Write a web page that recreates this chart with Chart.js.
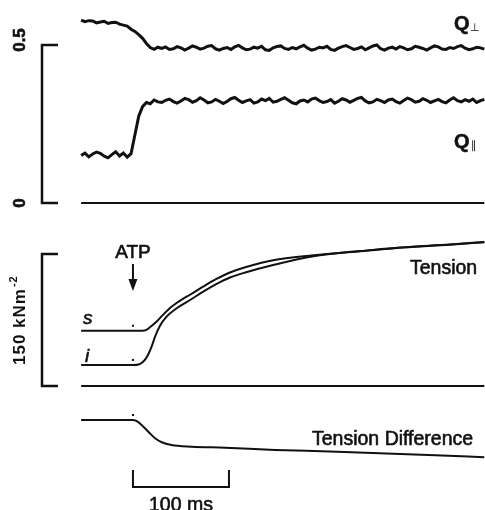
<!DOCTYPE html>
<html>
<head>
<meta charset="utf-8">
<script src="https://cdn.jsdelivr.net/npm/chart.js@4/dist/chart.umd.min.js"></script>
<style>
  body { margin: 0; background: #fff; }
</style>
</head>
<body>
<canvas id="myChart" width="485" height="510"></canvas>
<script>
// times are ms after ATP release
var qTimes = [-54, -50, -46, -42, -38, -34, -30, -26, -22, -18, -14, -10, -6, -2, 2, 6, 10, 14, 18, 22, 26,
    30, 34, 38, 42, 46, 50, 54, 58, 62, 66, 70, 74, 78, 82, 86, 90, 94, 98, 102, 106,
    110, 114, 118, 122, 126, 130, 134, 138, 142, 146, 150, 154, 158, 162, 166, 170, 174, 178, 182, 186,
    190, 194, 198, 202, 206, 210, 214, 218, 222, 226, 230, 234, 238, 242, 246, 250, 254, 258, 262, 266,
    270, 274, 278, 282, 286, 290, 294, 298, 302, 306, 310, 314, 318, 322, 326, 330, 334, 338, 342, 346,
    350, 354, 358, 362, 366];

var qPerp = [0.579, 0.574, 0.577, 0.576, 0.570, 0.573, 0.575, 0.568, 0.571, 0.572, 0.566, 0.563, 0.560, 0.550,
    0.543, 0.533, 0.521, 0.505, 0.492, 0.486, 0.493,
    0.489, 0.494, 0.486, 0.488, 0.495, 0.491, 0.484, 0.490, 0.497, 0.493,
    0.487, 0.490, 0.496, 0.498, 0.488, 0.484, 0.489, 0.492, 0.486, 0.494,
    0.499, 0.491, 0.485, 0.487, 0.493, 0.490, 0.496, 0.485, 0.483, 0.491,
    0.495, 0.497, 0.489, 0.486, 0.492, 0.488, 0.494, 0.499, 0.490, 0.484,
    0.487, 0.493, 0.491, 0.496, 0.486, 0.483, 0.490, 0.495, 0.498, 0.492,
    0.486, 0.489, 0.494, 0.485, 0.491, 0.497, 0.500, 0.488, 0.484, 0.490,
    0.493, 0.487, 0.495, 0.491, 0.485, 0.488, 0.496, 0.493, 0.489, 0.484,
    0.491, 0.497, 0.494, 0.487, 0.486, 0.492, 0.489, 0.495, 0.498, 0.490,
    0.485, 0.488, 0.493, 0.491, 0.487];

var qPar = [0.150, 0.158, 0.146, 0.155, 0.161, 0.157, 0.148, 0.143, 0.153, 0.162, 0.149, 0.158, 0.145, 0.156,
    0.215, 0.275, 0.305, 0.318, 0.314, 0.326, 0.320,
    0.318, 0.325, 0.329, 0.321, 0.316, 0.323, 0.331, 0.327, 0.319, 0.324,
    0.333, 0.326, 0.317, 0.320, 0.328, 0.322, 0.315, 0.321, 0.330, 0.334,
    0.325, 0.318, 0.323, 0.327, 0.316, 0.320, 0.329, 0.324, 0.331, 0.319,
    0.322, 0.328, 0.333, 0.325, 0.317, 0.314, 0.323, 0.326, 0.320, 0.329,
    0.332, 0.324, 0.318, 0.321, 0.327, 0.316, 0.322, 0.330, 0.326, 0.319,
    0.325, 0.331, 0.334, 0.323, 0.317, 0.320, 0.328, 0.324, 0.318, 0.326,
    0.329, 0.321, 0.316, 0.324, 0.332, 0.327, 0.319, 0.322, 0.330, 0.325,
    0.318, 0.323, 0.328, 0.321, 0.317, 0.326, 0.333, 0.324, 0.320, 0.327,
    0.322, 0.329, 0.318, 0.324, 0.328];

// tension (kN m-2) of the two fibres
var sTimes = [-54, 0, 10, 14, 18, 25, 31, 38, 45, 52, 59, 73, 87, 101, 117, 146, 188, 237, 278, 330, 366];
var sTension = [62.8, 62.8, 62.8, 63.8, 67, 73.5, 80.5, 88.2, 94, 99, 103.4, 112.8, 121.6, 129, 135, 143, 148.5, 153.4, 157.4, 160.8, 163.6];

var iTimes = [-54, 0, 6, 10, 13, 16, 19.4, 23, 28, 35, 45.5, 59.4, 73.2, 87.2, 101, 117, 146, 188, 237, 278, 330, 366];
var iTension = [23.9, 23.9, 24.5, 27, 30.5, 36, 44.7, 56, 68.2, 78.8, 88.3, 97.7, 107.2, 116, 123.3, 129, 137.5, 147.5, 153.2, 157.2, 160.6, 163.4];

// s - i
var diffTimes = [-54, 0, 4, 9, 16, 23, 30, 40, 61, 96, 148, 205, 257, 315, 366];
var tensionDiff = [38.9, 38.9, 37.5, 33.2, 25.6, 18.1, 13.6, 10.5, 8.6, 7.4, 4.8, 3.1, 1.1, -1.2, -3.5];

var baseTimes = [-54, 366];
var baseValues = [0, 0];

// calibration bars
var qBar = [0, 0.5];
var qBarLabels = ['0', '0.5'];
var tensionBar = [0, 150];
var timeBar = [0, 100];

function pts(xs, ys) {
    return xs.map(function (t, k) { return { x: t, y: ys[k] }; });
}

function trace(data, axis, width, smooth) {
    return {
        data: data,
        yAxisID: axis,
        borderColor: '#111',
        borderWidth: width,
        pointRadius: 0,
        fill: false,
        cubicInterpolationMode: smooth ? 'monotone' : 'default',
        tension: 0
    };
}

// text a bit heavier than the plain font, like the printed figure
function txt(ctx, str, x, y, font, align, angle, heavy) {
    ctx.save();
    ctx.translate(x, y);
    if (angle) ctx.rotate(angle);
    ctx.font = font;
    ctx.textAlign = align || 'left';
    ctx.textBaseline = 'alphabetic';
    ctx.lineWidth = 0.6;
    ctx.fillText(str, 0, 0);
    if (heavy !== false) ctx.strokeText(str, 0, 0);
    ctx.restore();
}

function bracket(ctx, xLine, xTick, y0, y1) {
    ctx.beginPath();
    ctx.moveTo(xTick, y0);
    ctx.lineTo(xLine, y0);
    ctx.lineTo(xLine, y1);
    ctx.lineTo(xTick, y1);
    ctx.stroke();
}

var overlay = {
    id: 'overlay',
    afterDatasetsDraw: function (chart) {
        var ctx = chart.ctx;
        var xs = chart.scales.x, yQ = chart.scales.yQ, yT = chart.scales.yT, yD = chart.scales.yD;
        var x0 = xs.getPixelForValue(timeBar[0]);
        var x1 = xs.getPixelForValue(timeBar[1]);
        var font = '"Liberation Sans", Arial, sans-serif';

        ctx.save();
        ctx.strokeStyle = '#111';
        ctx.fillStyle = '#111';
        ctx.lineWidth = 2.5;
        ctx.lineCap = 'butt';

        // left calibration brackets
        bracket(ctx, 42, 58, yQ.getPixelForValue(qBar[0]), yQ.getPixelForValue(qBar[1]));
        bracket(ctx, 42, 58, yT.getPixelForValue(tensionBar[0]), yT.getPixelForValue(tensionBar[1]));

        // 100 ms bar
        ctx.lineWidth = 2;
        ctx.beginPath();
        ctx.moveTo(x0, 470);
        ctx.lineTo(x0, 487);
        ctx.lineTo(x1, 487);
        ctx.lineTo(x1, 470);
        ctx.stroke();

        // ATP arrow
        ctx.beginPath();
        ctx.moveTo(x0, 264);
        ctx.lineTo(x0, 287);
        ctx.stroke();
        ctx.beginPath();
        ctx.moveTo(x0 - 4.5, 279);
        ctx.lineTo(x0, 291);
        ctx.lineTo(x0 + 4.5, 279);
        ctx.closePath();
        ctx.fill();

        // dots marking ATP release on each trace
        [[yT, sTension[1]], [yT, iTension[1]], [yD, tensionDiff[1]]].forEach(function (p) {
            ctx.fillRect(x0 - 1, p[0].getPixelForValue(p[1]) - 6, 2, 2);
        });

        // rotated scale labels
        txt(ctx, qBarLabels[1], 25, yQ.getPixelForValue(qBar[1]) - 5, 'bold 17px ' + font, 'center', -Math.PI / 2);
        txt(ctx, qBarLabels[0], 25, yQ.getPixelForValue(qBar[0]), 'bold 17px ' + font, 'center', -Math.PI / 2);
        ctx.save();
        ctx.translate(25, 365);
        ctx.rotate(-Math.PI / 2);
        ctx.font = 'bold 17px ' + font;
        ctx.textAlign = 'left';
        ctx.letterSpacing = '1px';
        ctx.fillText('150 kNm', 0, 0);
        var w = ctx.measureText('150 kNm').width;
        ctx.font = 'bold 11px ' + font;
        ctx.fillText('-2', w + 1, -8);
        ctx.restore();

        // trace labels
        txt(ctx, 'Q', 454, 30, 'bold 20px ' + font);
        txt(ctx, '\u22A5', 470, 31, '11px "DejaVu Sans"', 'left', 0, false);
        txt(ctx, 'Q', 454, 148, 'bold 20px ' + font);
        txt(ctx, '\u2225', 471, 149, '11px "DejaVu Sans"', 'left', 0, false);
        txt(ctx, 'ATP', x0, 258, '19px ' + font, 'center');
        txt(ctx, 'Tension', 410, 274, '19.5px ' + font);
        txt(ctx, 'Tension Difference', 312, 445, '19.5px ' + font);
        txt(ctx, 's', 83, 324, 'italic 19px ' + font);
        txt(ctx, 'i', 85, 362, 'italic 19px ' + font);
        txt(ctx, '100 ms', (x0 + x1) / 2, 511, '19.5px ' + font, 'center');
        ctx.restore();
    }
};

var data = {
    datasets: [
        trace(pts(qTimes, qPerp), 'yQ', 3, false),
        trace(pts(qTimes, qPar), 'yQ', 3, false),
        trace(pts(baseTimes, baseValues), 'yQ', 2, false),
        trace(pts(sTimes, sTension), 'yT', 2, true),
        trace(pts(iTimes, iTension), 'yT', 2, true),
        trace(pts(baseTimes, baseValues), 'yT', 2, false),
        trace(pts(diffTimes, tensionDiff), 'yD', 2, true)
    ]
};

// each hidden y axis spans the whole canvas so the three panels stack
var options = {
    responsive: false,
    animation: false,
    devicePixelRatio: 1,
    layout: { padding: 0 },
    plugins: { legend: { display: false }, tooltip: { enabled: false } },
    scales: {
        x: { type: 'linear', display: false, min: -138.5, max: 366.7 },
        yQ: { type: 'linear', display: false, min: -0.9715, max: 0.6424 },
        yT: { type: 'linear', display: false, min: -140.9, max: 438.6 },
        yD: { type: 'linear', display: false, min: -63.4, max: 516.2 }
    }
};

new Chart(document.getElementById('myChart'), {
    type: 'line',
    data: data,
    options: options,
    plugins: [overlay]
});
</script>
</body>
</html>
